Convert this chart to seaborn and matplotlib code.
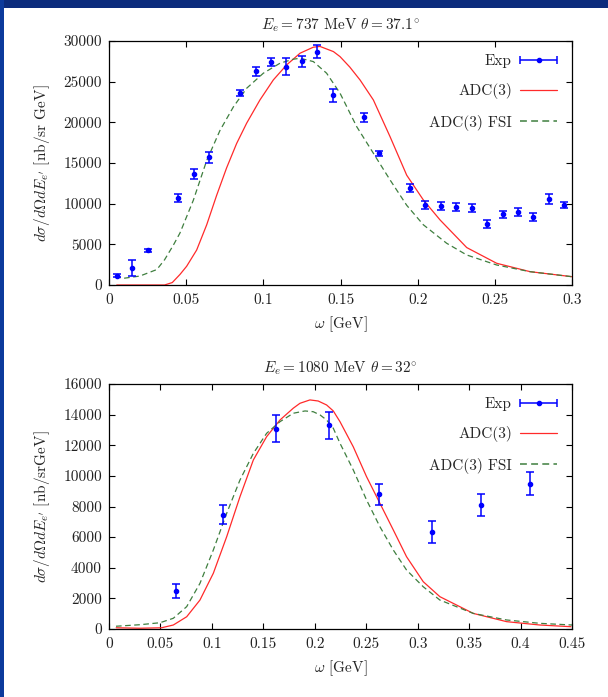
import numpy as np
import pandas as pd
import matplotlib
matplotlib.use("Agg")
import matplotlib.pyplot as plt
import seaborn as sns
from matplotlib.legend_handler import HandlerErrorbar
from matplotlib.patches import Rectangle

# ---------------- data ----------------
# Panel 1: E_e = 737 MeV, theta = 37.1 deg
exp1_w = [0.005, 0.015, 0.025, 0.045, 0.055, 0.065, 0.085, 0.095, 0.105, 0.115, 0.125, 0.135, 0.145,
          0.165, 0.175, 0.195, 0.205, 0.215, 0.225, 0.235, 0.245, 0.255, 0.265, 0.275, 0.285, 0.295]
exp1_xs = [1150, 2050, 4250, 10700, 13650, 15700, 23600, 26250, 27400, 26850, 27500, 28650, 23350,
           20600, 16200, 11900, 9880, 9720, 9640, 9430, 7500, 8690, 9020, 8320, 10540, 9840]
exp1_err = [150, 1000, 150, 500, 650, 700, 350, 500, 500, 1000, 650, 800, 800,
            500, 300, 500, 500, 450, 500, 500, 500, 400, 500, 500, 600, 400]

adc1_w = [0.005, 0.036, 0.041, 0.046, 0.0503, 0.0568, 0.0633, 0.0697, 0.0762, 0.0827, 0.0892, 0.0978,
          0.1065, 0.1151, 0.1238, 0.1324, 0.1367, 0.1454, 0.1497, 0.156, 0.1627, 0.1713, 0.1821, 0.1929,
          0.2037, 0.2145, 0.2318, 0.2512, 0.2728, 0.3]
adc1_xs = [0, 0, 300, 1300, 2300, 4300, 7400, 11000, 14400, 17400, 19900, 22750,
           25220, 27060, 28500, 29240, 29330, 28700, 28080, 26800, 25200, 22750, 18240, 13500,
           10450, 8000, 4600, 2670, 1640, 1020]

fsi1_w = [0.004, 0.0093, 0.02, 0.031, 0.036, 0.0417, 0.046, 0.0546, 0.0633, 0.0719, 0.0806, 0.0892,
          0.1, 0.1108, 0.1194, 0.1238, 0.1324, 0.141, 0.1497, 0.1605, 0.1713, 0.1821, 0.1929,
          0.2037, 0.2188, 0.2318, 0.2512, 0.2728, 0.3]
fsi1_xs = [1020, 820, 1100, 1900, 3100, 4900, 6400, 10400, 15300, 19000, 21900, 24190,
           26040, 27270, 27760, 27880, 27470, 26040, 23580, 19470, 16200, 12920, 9800,
           7400, 5130, 3690, 2460, 1640, 1020]

# Panel 2: E_e = 1080 MeV, theta = 32 deg
exp2_w = [0.065, 0.111, 0.162, 0.2135, 0.262, 0.3135, 0.362, 0.4095]
exp2_xs = [2460, 7470, 13080, 13300, 8800, 6340, 8100, 9490]
exp2_err = [450, 620, 900, 860, 680, 700, 700, 740]

adc2_w = [0.007, 0.03, 0.051, 0.0625, 0.0755, 0.0884, 0.1014, 0.1144, 0.1273, 0.1403, 0.1532, 0.1662,
          0.1791, 0.1856, 0.1953, 0.2033, 0.2115, 0.218, 0.2245, 0.2374, 0.2503, 0.2633, 0.2763, 0.2892,
          0.3054, 0.3216, 0.354, 0.3864, 0.4188, 0.449]
adc2_xs = [80, 50, 80, 260, 800, 1890, 3640, 6030, 8640, 11040, 12560, 13650,
           14420, 14740, 14960, 14890, 14630, 14240, 13540, 11900, 9950, 8210, 6470, 4720,
           3090, 2110, 1020, 480, 260, 150]

fsi2_w = [0.0068, 0.0301, 0.0496, 0.0625, 0.0755, 0.0884, 0.1014, 0.1144, 0.1273, 0.1403, 0.1532,
          0.1662, 0.1791, 0.1905, 0.1985, 0.2051, 0.2115, 0.218, 0.2245, 0.2374, 0.2503, 0.2633, 0.2763,
          0.2892, 0.3054, 0.3216, 0.354, 0.3864, 0.4188, 0.45]
fsi2_xs = [180, 280, 410, 700, 1460, 2980, 5160, 7560, 9730, 11470, 12780,
           13540, 14090, 14240, 14190, 13980, 13650, 13110, 12130, 10390, 8430, 6680, 5160,
           3850, 2760, 1890, 1020, 590, 370, 260]

titles = [r"$E_e = 737$ MeV $\theta = 37.1^{\circ}$", r"$E_e = 1080$ MeV $\theta = 32^{\circ}$"]
ylabels = [r"$d\sigma/d\Omega dE_{e^{\prime}}$ [nb/sr GeV]", r"$d\sigma/d\Omega dE_{e^{\prime}}$ [nb/srGeV]"]
xlabel = r"$\omega$ [GeV]"
xticks1 = [0, 0.05, 0.1, 0.15, 0.2, 0.25, 0.3]
xticklabels1 = ["0", "0.05", "0.1", "0.15", "0.2", "0.25", "0.3"]
yticks1 = [0, 5000, 10000, 15000, 20000, 25000, 30000]
xticks2 = [0, 0.05, 0.1, 0.15, 0.2, 0.25, 0.3, 0.35, 0.4, 0.45]
xticklabels2 = ["0", "0.05", "0.1", "0.15", "0.2", "0.25", "0.3", "0.35", "0.4", "0.45"]
yticks2 = [0, 2000, 4000, 6000, 8000, 10000, 12000, 14000, 16000]
labels = ["Exp", "ADC(3)", "ADC(3) FSI"]

# ---------------- style ----------------
sns.set_theme(style="white")
plt.rcParams["font.family"] = ["cmr10", "DejaVu Serif"]
plt.rcParams["mathtext.fontset"] = "cm"
plt.rcParams["axes.formatter.use_mathtext"] = True
plt.rcParams["axes.unicode_minus"] = False

RED = "#ff2a2a"
GREEN = "#3f7f3f"
BLUE = "#0000ff"
FS = 11

fig = plt.figure(figsize=(6.08, 6.97), dpi=100)
fig.patch.set_facecolor("white")
# slide border
fig.patches.append(Rectangle((0, 1 - 8 / 697), 1, 8 / 697, transform=fig.transFigure,
                             facecolor="#0b2b7c", edgecolor="none", zorder=0))
fig.patches.append(Rectangle((0, 0), 4 / 608, 1, transform=fig.transFigure,
                             facecolor="#0c3a9c", edgecolor="none", zorder=0))

ax1 = fig.add_axes([109 / 608, 1 - 285 / 697, 463 / 608, 244 / 697])
ax2 = fig.add_axes([109 / 608, 1 - 629 / 697, 463 / 608, 245 / 697])

panels = [
    (ax1, exp1_w, exp1_xs, exp1_err, adc1_w, adc1_xs, fsi1_w, fsi1_xs, (0, 0.3), (0, 30000),
     xticks1, xticklabels1, yticks1, 244),
    (ax2, exp2_w, exp2_xs, exp2_err, adc2_w, adc2_xs, fsi2_w, fsi2_xs, (0, 0.45), (0, 16000),
     xticks2, xticklabels2, yticks2, 245),
]

for i, (ax, ew, exs, eerr, aw, axs, fw, fxs, xl, yl, xt, xtl, yt, hpx) in enumerate(panels):
    curves = pd.concat([
        pd.DataFrame({"omega": aw, "xs": axs, "model": "ADC(3)"}),
        pd.DataFrame({"omega": fw, "xs": fxs, "model": "ADC(3) FSI"}),
    ])
    sns.lineplot(data=curves, x="omega", y="xs", hue="model", style="model",
                 palette={"ADC(3)": RED, "ADC(3) FSI": GREEN},
                 dashes={"ADC(3)": "", "ADC(3) FSI": (4.5, 2.8)},
                 estimator=None, sort=False, linewidth=0.9, ax=ax, legend=False)
    ax.errorbar(ew, exs, yerr=eerr, fmt="o", color=BLUE, ms=3, elinewidth=1.1,
                capsize=2.8, capthick=1.1, zorder=5)

    # legend handles
    h_exp = ax.errorbar([np.nan], [np.nan], xerr=[1], fmt="o", color=BLUE, ms=3,
                        elinewidth=1.1, capsize=2.8, capthick=1.1)
    h_adc, = ax.plot([], [], color=RED, lw=0.9)
    h_fsi, = ax.plot([], [], color=GREEN, lw=1.1, dashes=(4.5, 2.8))
    ax.legend([h_exp, h_adc, h_fsi], labels, loc="upper right",
              bbox_to_anchor=((557 - 109) / 463, 1 - 13 / hpx), borderaxespad=0,
              borderpad=0, frameon=False, markerfirst=False, fontsize=FS,
              handlelength=2.4, handletextpad=0.55, labelspacing=1.0,
              handler_map={type(h_exp): HandlerErrorbar(xerr_size=1.2, numpoints=1)})

    ax.set_xlim(*xl)
    ax.set_ylim(*yl)
    ax.set_xticks(xt, xtl)
    ax.set_yticks(yt, [str(v) for v in yt])
    ax.tick_params(axis="both", which="major", direction="in", length=4, width=0.8,
                   top=True, right=True, bottom=True, left=True, labelsize=FS, pad=6,
                   colors="black", labelcolor="#222222")
    ax.tick_params(axis="y", pad=5)
    for s in ax.spines.values():
        s.set_color("black")
        s.set_linewidth(0.9)
    ax.set_title(titles[i], fontsize=FS, pad=8)
    ax.set_xlabel(xlabel, fontsize=FS)
    ax.set_ylabel(ylabels[i], fontsize=FS)
    ax.xaxis.set_label_coords(0.5, -29 / hpx)
    ax.yaxis.set_label_coords(-57 / 463, 0.5)

fig.savefig("out.png", dpi=100, facecolor="white")
